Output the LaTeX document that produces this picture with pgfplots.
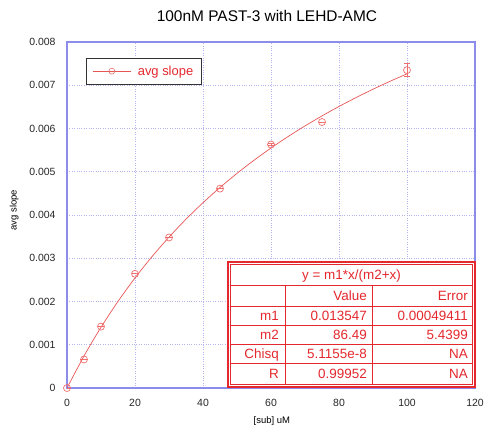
\documentclass[border=0pt]{standalone}
\usepackage{fontspec}
\setmainfont{Liberation Sans}
\usepackage{pgfplots}
\pgfplotsset{compat=1.18}
\definecolor{axblue}{RGB}{140,140,235}
\definecolor{gridblue}{RGB}{180,180,238}
\definecolor{fitred}{RGB}{232,85,85}
\definecolor{markred}{RGB}{238,110,110}
\definecolor{tabred}{RGB}{228,40,45}
\begin{document}
\begin{tikzpicture}
\begin{axis}[name=ax, at={(0,0)}, anchor=south west,
  scale only axis, width=408bp, height=346bp,
  xmin=0, xmax=120, ymin=0, ymax=0.008,
  xtick={0,20,40,60,80,100,120},
  ytick={0,0.001,0.002,0.003,0.004,0.005,0.006,0.007,0.008},
  scaled y ticks=false,
  yticklabel style={/pgf/number format/fixed,/pgf/number format/precision=3, xshift=-8bp},
  xticklabel style={yshift=-8bp},
  /pgf/number format/assume math mode=true,
  tick label style={font=\fontsize{10.5}{12}\selectfont, text=black!85},
  axis line style={axblue, line width=1.3pt},
  grid=major, major grid style={gridblue, dotted, line width=0.9pt},
  major tick length=0pt,
  xlabel={[sub] uM}, ylabel={avg slope},
  label style={font=\fontsize{9.5}{11}\selectfont},
  xlabel style={at={(axis description cs:0.502,-0.104)}, anchor=base},
  ylabel style={at={(axis description cs:-0.110,0.514)}, anchor=south},
  title={100nM PAST-3 with LEHD-AMC},
  title style={at={(axis description cs:0.49,1.042)}, anchor=base, font=\fontsize{15.5}{18}\selectfont},
  legend style={at={(axis description cs:0.0466,0.9546)}, anchor=north west,
    draw=black!80, line width=1pt, font=\fontsize{13}{15}\selectfont, text=tabred,
    inner xsep=6bp, inner ysep=5.5bp},
  legend cell align=left,
]
\addlegendimage{legend image code/.code={
  \path[draw=none, fill=none] (0bp,0bp) rectangle (43bp,0.1bp);
  \draw[fitred, line width=0.6pt] (0bp,0bp) -- (38bp,0bp);
  \draw[markred, line width=0.6pt] (19bp,0bp) circle (3bp);
}}
\addlegendentry{avg slope}
\addplot[fitred, line width=0.7pt, smooth, forget plot] coordinates {
(0,0) (5,0.0007404) (10,0.0014040) (15,0.0020022) (20,0.0025443) (25,0.0030377)
(30,0.0034888) (35,0.0039028) (40,0.0042840) (45,0.0046362) (50,0.0049626)
(55,0.0052660) (60,0.0055486) (65,0.0058126) (70,0.0060597) (75,0.0062916)
(80,0.0065095) (85,0.0067147) (90,0.0069082) (95,0.0070911) (100,0.0072642)
};
\addplot[only marks, mark=o, mark size=3.5bp, markred, mark options={line width=0.7pt}, forget plot,
  error bars/.cd, y dir=both, y explicit, error bar style={markred, line width=0.7pt},
  error mark options={markred, rotate=90, mark size=3bp, line width=0.7pt}] coordinates {
(0,0) +- (0,0)
(5,0.00066) +- (0,0)
(10,0.00142) +- (0,0)
(20,0.00264) +- (0,0)
(30,0.00348) +- (0,0)
(45,0.00461) +- (0,0)
(60,0.00563) +- (0,0.00003)
(75,0.00615) +- (0,0)
(100,0.00735) +- (0,0.00015)
};
\end{axis}
\begin{scope}[shift={(ax.south west)}, x=1bp, y=1bp]
\fill[white] (160,0) rectangle (409,127);
\draw[tabred, line width=1.6bp] (160.8,0.8) rectangle (408.2,126.2);
\draw[tabred, line width=0.8bp] (163.5,4) rectangle (405.5,123.5);
\draw[tabred, line width=0.8bp] (163.5,103) -- (405.5,103);
\foreach \yy in {82,63,44,25} {\draw[tabred, line width=0.8bp] (163.5,\yy) -- (405.5,\yy);}
\draw[tabred, line width=0.8bp] (218,4) -- (218,103);
\draw[tabred, line width=0.8bp] (305,4) -- (305,103);
\begin{scope}[every node/.style={font=\fontsize{13.5}{16}\selectfont, text=tabred, inner sep=0pt}]
\node[anchor=base] at (284.5,108.5) {y = m1*x/(m2+x)};
\node[anchor=base east] at (300,87.8) {Value};
\node[anchor=base east] at (401,87.8) {Error};
\node[anchor=base east] at (212,67.8) {m1};
\node[anchor=base east] at (300,67.8) {0.013547};
\node[anchor=base east] at (401,67.8) {0.00049411};
\node[anchor=base east] at (212,48.8) {m2};
\node[anchor=base east] at (300,48.8) {86.49};
\node[anchor=base east] at (401,48.8) {5.4399};
\node[anchor=base east] at (212,29.8) {Chisq};
\node[anchor=base east] at (300,29.8) {5.1155e-8};
\node[anchor=base east] at (401,29.8) {NA};
\node[anchor=base east] at (212,9.8) {R};
\node[anchor=base east] at (300,9.8) {0.99952};
\node[anchor=base east] at (401,9.8) {NA};
\end{scope}
\pgfresetboundingbox
\path[use as bounding box] (-67,-39) rectangle (418,388);
\end{scope}
\end{tikzpicture}
\end{document}
